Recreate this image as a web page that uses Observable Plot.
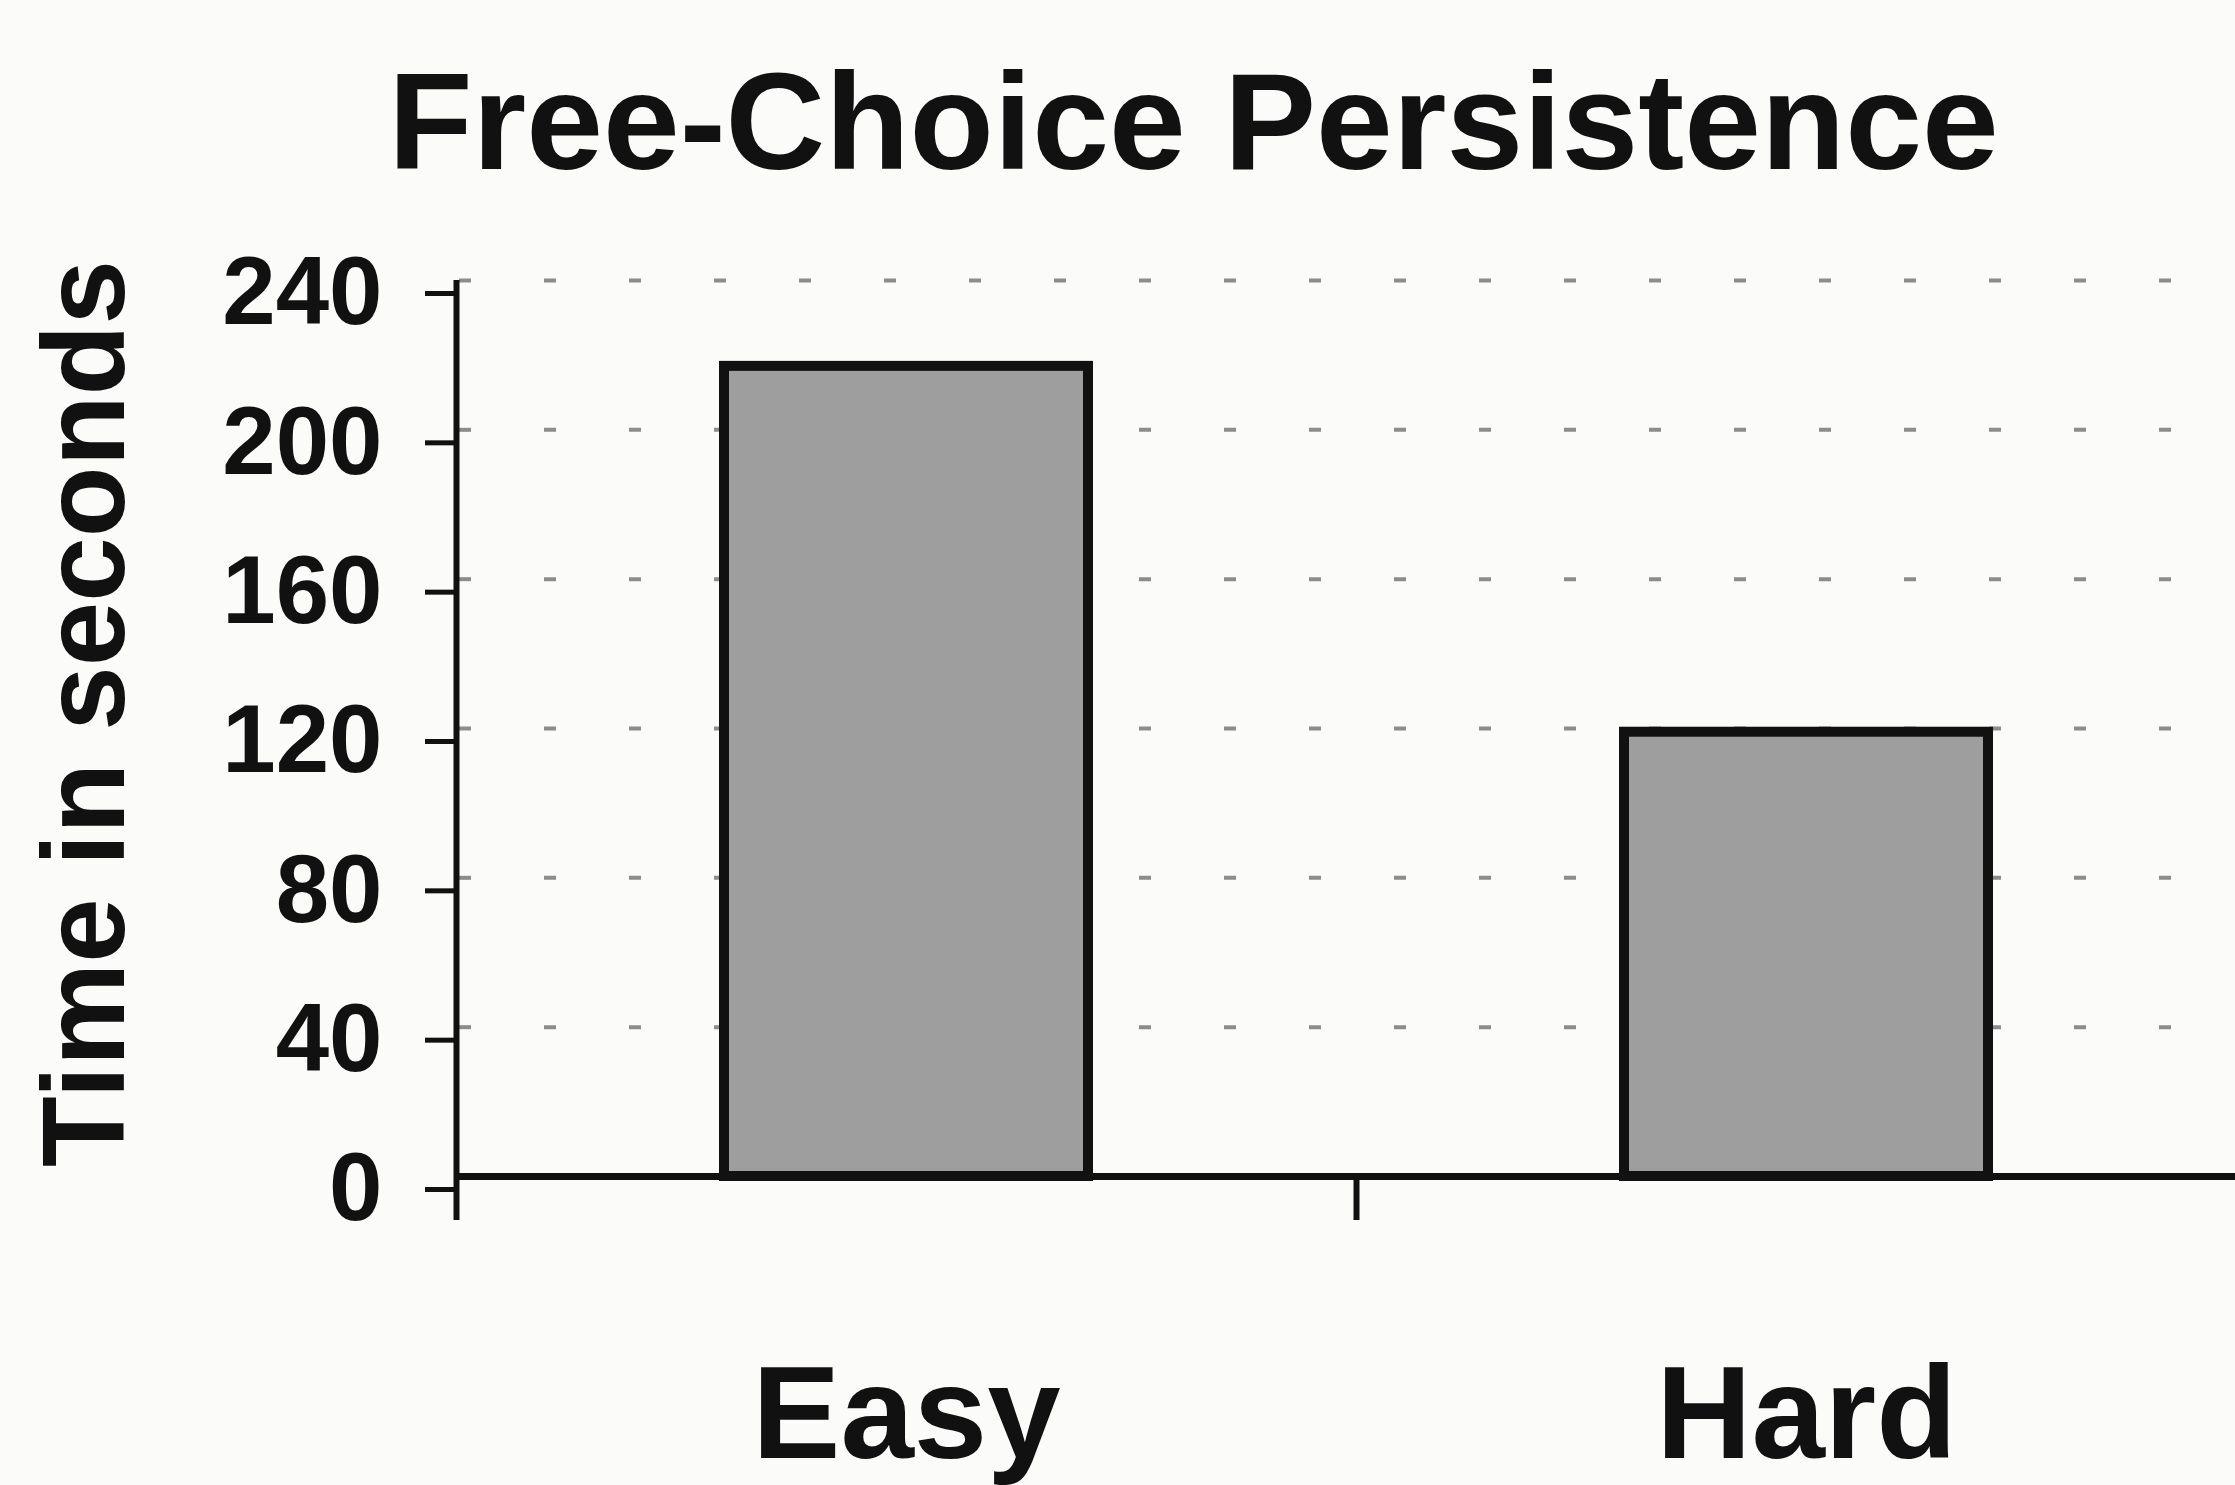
<!DOCTYPE html>
<html>
<head>
<meta charset="utf-8">
<script src="https://cdn.jsdelivr.net/npm/d3@7"></script>
<script src="https://cdn.jsdelivr.net/npm/@observablehq/plot@0.6"></script>
<style>
  html, body { margin: 0; padding: 0; background: #fbfbfa; }
  body { width: 2235px; height: 1485px; overflow: hidden; font-family: "Liberation Sans", Arial, Helvetica, sans-serif; }
  #title { box-sizing: border-box; height: 230px; padding-top: 21px; padding-left: 152px; line-height: 200px;
           font-size: 138px; font-weight: bold; text-align: center; color: #111; white-space: nowrap; }
  #chart svg { overflow: visible; }
</style>
</head>
<body>
<div id="title">Free-Choice Persistence</div>
<div id="chart"></div>
<script>
const titleText = "Free-Choice Persistence";
const yLabel = "Time in seconds";
const categories = ["Easy", "Hard"];
const values = [217, 119];
const yTicks = [0, 40, 80, 120, 160, 200, 240];
const gridTicks = [40, 80, 120, 160, 200, 240];
const categoryBounds = [0, 1, 2];

const rows = categories.map((c, i) => ({category: c, i, value: values[i]}));

const chart = Plot.plot({
  width: 2235,
  height: 1255,
  marginTop: 50,
  marginBottom: 309,
  marginLeft: 456,
  marginRight: 0,
  style: {background: "transparent", overflow: "visible", fontFamily: "'Liberation Sans', Arial, Helvetica, sans-serif", color: "#111"},
  x: {domain: [0, 2], range: [456, 2256], axis: null},
  y: {domain: [0, 240], axis: null},
  marks: [
    Plot.ruleY(gridTicks, {stroke: "#8c8c8c", strokeWidth: 4, strokeDasharray: "12 73", strokeDashoffset: -3}),
    Plot.rectY(rows, {x1: "i", x2: d => d.i + 1, y: "value", insetLeft: 268, insetRight: 268, fill: "#9e9e9e", ariaLabel: "bar fill"}),
    Plot.rectY(rows, {x1: "i", x2: d => d.i + 1, y: "value", insetLeft: 268, insetRight: 268, fill: "none", stroke: "#111", strokeWidth: 10}),
    Plot.ruleY([0], {stroke: "#111", strokeWidth: 7}),
    Plot.ruleX([0], {y1: 0, y2: 240, stroke: "#111", strokeWidth: 6}),
    Plot.axisY({ticks: yTicks, tickSize: 31, tickPadding: 43, fontSize: 96, fontWeight: "bold", strokeWidth: 5, stroke: "#111", dy: 13, label: null}),
    Plot.axisX({ticks: categoryBounds, tickSize: 44, tickFormat: () => "", strokeWidth: 6, stroke: "#111", label: null}),
    Plot.text(rows, {x: d => d.i + 0.5, y: 0, text: "category", lineAnchor: "bottom", dy: 281, fontSize: 132, fontWeight: "bold", fill: "#111"}),
    Plot.text([yLabel], {frameAnchor: "left", textAnchor: "middle", rotate: -90, dx: -370, dy: -15, fontSize: 116, fontWeight: "bold", fill: "#111"})
  ]
});

// grain texture for the bar fill
const ns = "http://www.w3.org/2000/svg";
const defs = document.createElementNS(ns, "defs");
defs.innerHTML = `<filter id="grain" x="0" y="0" width="100%" height="100%" filterUnits="objectBoundingBox">
  <feTurbulence type="fractalNoise" baseFrequency="0.8" numOctaves="2" seed="4" result="n"/>
  <feColorMatrix in="n" type="matrix" values="0.55 0 0 0 0.34  0.55 0 0 0 0.34  0.55 0 0 0 0.34  0 0 0 0 1" result="g"/>
  <feComposite in="g" in2="SourceGraphic" operator="in"/>
</filter>`;
chart.insertBefore(defs, chart.firstChild);
const rectGroups = chart.querySelectorAll('g[aria-label="bar fill"] rect');
rectGroups.forEach(r => r.setAttribute("filter", "url(#grain)"));
document.getElementById("chart").appendChild(chart);
</script>
</body>
</html>
